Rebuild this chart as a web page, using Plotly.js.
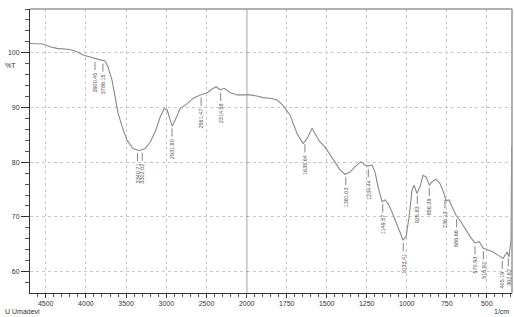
<!DOCTYPE html>
<html>
<head>
<meta charset="utf-8">
<script src="https://cdn.plot.ly/plotly-3.0.1.min.js"></script>
<style>html,body{margin:0;padding:0;background:#fff;}#chart{width:514px;height:317px;}</style>
</head>
<body>
<div id="chart"></div>
<script>
// Wavenumber (1/cm) and %T, high-wavenumber segment (4695-2000)
var wnLeft = [4695,4534,4447,4359,4198,4111,4036,3949,3887,3825,3763,3725,3675,3637,3600,3550,3488,3413,3337,3262,3199,3137,3075,3025,2988,2951,2926,2889,2827,2739,2665,2578,2491,2416,2379,2329,2279,2205,2118,2043,2000];
var tLeft  = [101.7,101.6,101.1,100.8,100.6,100.2,99.6,99.2,98.9,98.7,98.5,97.4,95.0,92.0,89.0,86.5,84.0,82.5,82.1,82.5,83.7,85.6,88.3,89.8,89.5,87.7,86.6,87.7,89.8,90.7,91.7,92.3,92.7,93.5,93.8,93.2,93.5,92.7,92.3,92.3,92.3];
// Low-wavenumber segment (2000-344)
var wnRight = [2000,1979,1936,1898,1854,1811,1773,1729,1686,1648,1623,1592,1561,1542,1511,1479,1448,1417,1386,1354,1323,1286,1261,1242,1217,1198,1179,1154,1136,1117,1092,1067,1042,1023,1004,985,967,954,936,917,898,879,858,842,817,792,767,755,736,717,692,667,636,604,573,548,523,492,461,417,398,373,361,348,344];
var tRight  = [92.3,92.3,92.1,91.8,91.7,91.4,90.4,88.6,85.3,83.4,84.3,86.2,84.6,83.7,82.8,81.3,79.8,78.6,77.8,78.2,79.2,80.1,79.5,79.3,79.5,78.2,75.5,72.8,73.1,72.5,70.9,69.1,67.0,65.8,66.4,70.0,74.9,75.8,74.3,75.5,77.6,77.3,75.8,76.4,76.9,76.1,74.3,73.0,73.1,71.9,70.3,69.4,67.9,66.4,65.2,65.5,64.3,64.0,63.6,62.8,62.4,63.6,62.7,65.8,83.0];
// Peak labels
var peakLabels = ["3900.45","3786.15","3340.71","3302.02","2931.80","2561.47","2314.58","1635.64","1381.03","1234.44","1149.57","1033.41","925.83","856.39","736.13","686.66","570.93","516.92","405.19","362.62"];
var peakWn     = [3887,3788,3358,3299,2929,2567,2324,1636,1381,1240,1150,1022,934,859,761,688,573,521,403,365];
// Tick values
var xTicksLeft  = [4500,4000,3500,3000,2500,2000];
var xTicksRight = [1750,1500,1250,1000,750,500];
var yTicks = [60,70,80,90,100];

var allWn = wnLeft.concat(wnRight.slice(1));
var allT = tLeft.concat(tRight.slice(1));
function interp(w){
  for (var i=0;i<allWn.length-1;i++){
    var a=allWn[i], b=allWn[i+1];
    if (w<=a && w>=b){ var f=(a-w)/(a-b); return allT[i]+(allT[i+1]-allT[i])*f; }
  }
  return allT[allT.length-1];
}

var lineStyle = {color:'#8a8a8a', width:1.1};
var traces = [
  {x:wnLeft, y:tLeft, xaxis:'x', yaxis:'y', mode:'lines', line:lineStyle, hoverinfo:'skip'},
  {x:wnRight, y:tRight, xaxis:'x2', yaxis:'y', mode:'lines', line:lineStyle, hoverinfo:'skip'}
];

var split = 216.7/482;
var tickFont = {family:'Liberation Sans, Arial, sans-serif', size:7, color:'#333'};
var shapes = [
  {type:'line', xref:'x2', yref:'paper', x0:2000, x1:2000, y0:0, y1:1, line:{color:'#333', width:1}},
  {type:'line', xref:'paper', yref:'paper', x0:0, x1:1, y0:1, y1:1, line:{color:'#999', width:1.5}},
  {type:'line', xref:'paper', yref:'paper', x0:1, x1:1, y0:0, y1:1, line:{color:'#999', width:1.5}}
];
var annotations = [
  {xref:'paper', yref:'paper', x:-0.041, y:0.8, text:'%T', showarrow:false, font:tickFont, xanchor:'center', yanchor:'middle'},
  {xref:'paper', yref:'paper', x:-0.056, y:-0.064, text:'U Umadevi', showarrow:false, font:tickFont, xanchor:'left', yanchor:'middle'},
  {xref:'paper', yref:'paper', x:0.997, y:-0.064, text:'1/cm', showarrow:false, font:tickFont, xanchor:'right', yanchor:'middle'}
];
for (var i=0;i<peakWn.length;i++){
  var w = peakWn[i];
  var xr = w>2000 ? 'x' : 'x2';
  var v = interp(w);
  var y0 = v-0.55, y1 = y0-1.5;
  shapes.push({type:'line', xref:xr, yref:'y', x0:w, x1:w, y0:y0, y1:y1, line:{color:'#666', width:0.8}});
  annotations.push({xref:xr, yref:'y', x:w, y:y1-0.1, text:peakLabels[i], textangle:-90, showarrow:false,
    xanchor:'center', yanchor:'top', font:{family:'Liberation Sans, Arial, sans-serif', size:5.5, color:'#555'}});
}

var axCommon = {
  showgrid:true, gridcolor:'#c8c8c8', griddash:'dot', gridwidth:1,
  showline:true, linecolor:'#333', linewidth:1, zeroline:false,
  ticks:'outside', ticklen:4, tickcolor:'#333', tickfont:tickFont
};
var layout = {
  width:514, height:317,
  margin:{l:30, r:2, t:9, b:24},
  paper_bgcolor:'#fff', plot_bgcolor:'#fff',
  showlegend:false,
  xaxis: Object.assign({}, axCommon, {domain:[0, split], range:[4695, 2000], anchor:'y', tickmode:'array', tickvals:xTicksLeft,
    minor:{ticks:'outside', ticklen:2.5, tickcolor:'#555', dtick:100, showgrid:false}}),
  xaxis2: Object.assign({}, axCommon, {domain:[split, 1], range:[2000, 342], anchor:'y', tickmode:'array', tickvals:xTicksRight,
    minor:{ticks:'outside', ticklen:2.5, tickcolor:'#555', dtick:50, showgrid:false}}),
  yaxis: Object.assign({}, axCommon, {range:[56.1, 108], anchor:'x', tickmode:'array', tickvals:yTicks, ticklen:8,
    minor:{ticks:'outside', ticklen:4, tickcolor:'#555', dtick:2, showgrid:false}}),
  shapes:shapes,
  annotations:annotations
};
Plotly.newPlot('chart', traces, layout, {staticPlot:true, displayModeBar:false});
</script>
</body>
</html>
